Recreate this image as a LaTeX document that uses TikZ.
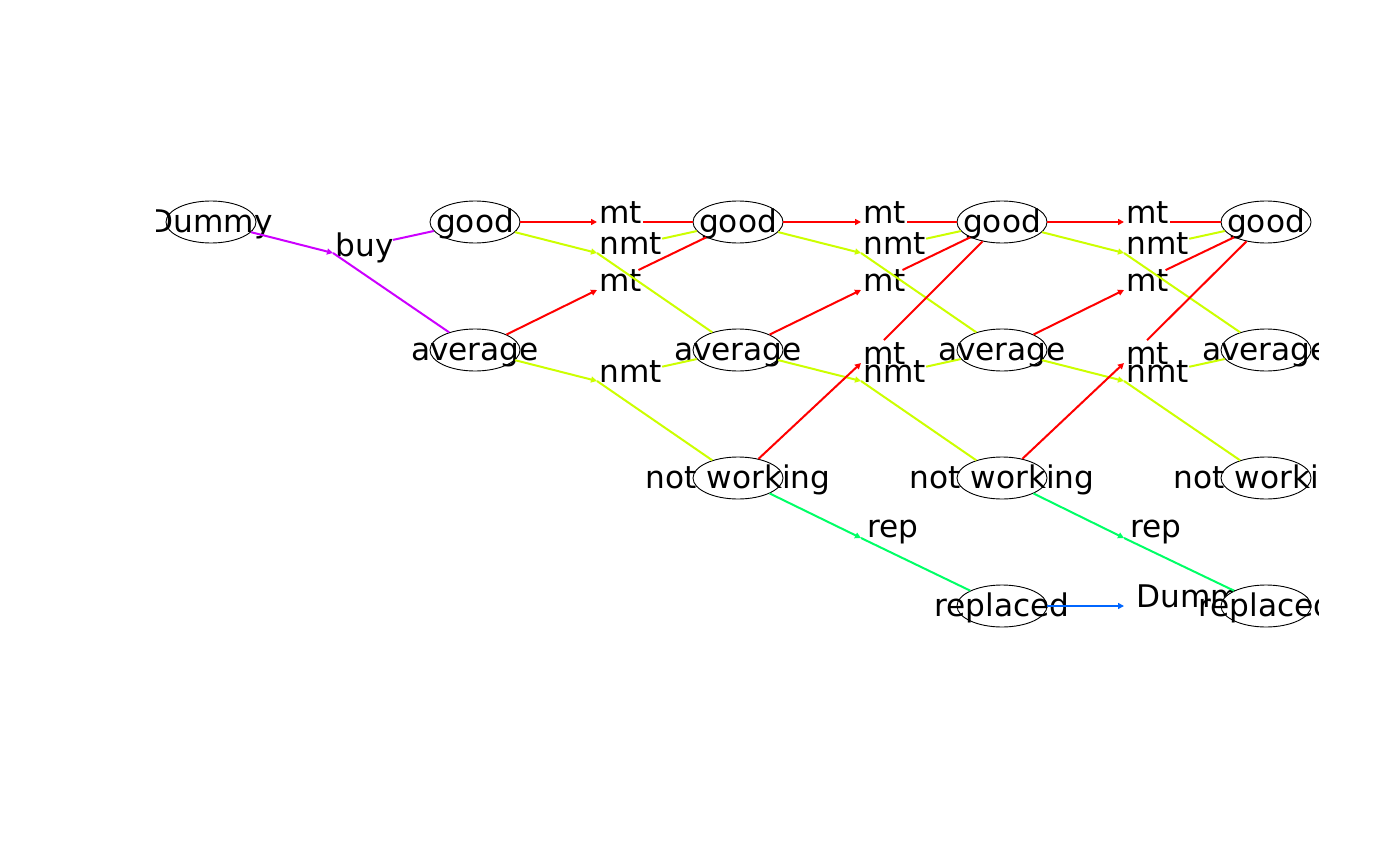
\documentclass[tikz,border=0pt]{standalone}
\usepackage{fontspec}
\setmainfont{DejaVu Sans}
\usetikzlibrary{positioning}
\usetikzlibrary{shapes.geometric}
\usetikzlibrary{arrows.meta}
\usetikzlibrary{calc}
\definecolor{mtc}{HTML}{FF0000}
\definecolor{nmtc}{HTML}{CCFF00}
\definecolor{repc}{HTML}{00FF66}
\definecolor{dumc}{HTML}{0066FF}
\definecolor{buyc}{HTML}{CC00FF}
\tikzset{
  state/.style={draw,shape=ellipse,fill=white,line width=0.45pt,inner sep=0pt,minimum width=45pt,minimum height=21pt},
  stlbl/.style={inner sep=0pt,text height=11pt,text depth=4pt,yshift=-1.7pt,font=\fontsize{15.6}{18}\selectfont},
  actlbl/.style={anchor=base west,inner sep=0.5pt,xshift=0.5pt,yshift=-0.6pt,font=\fontsize{15.6}{18}\selectfont},
  link/.style={line width=1pt},
  toact/.style={-{Triangle[length=3pt,width=3pt]}}
}

\begin{document}
\begin{tikzpicture}[x=0.5pt,y=-0.5pt]
        \useasboundingbox (0,0) rectangle (1400,866);
        \begin{scope}
        \clip (156,0) rectangle (1318,866);

        % decision / chance points
        \coordinate (buy) at (333,253);
        \coordinate (mtg1) at (597,222);
        \coordinate (nmtg1) at (597,253);
        \coordinate (mta1) at (597,290);
        \coordinate (nmta1) at (597,381);
        \coordinate (mtg2) at (861,222);
        \coordinate (nmtg2) at (861,253);
        \coordinate (mta2) at (861,290);
        \coordinate (nmta2) at (861,381);
        \coordinate (mtw2) at (861,363);
        \coordinate (rep2) at (861,538);
        \coordinate (mtg3) at (1124,222);
        \coordinate (nmtg3) at (1124,253);
        \coordinate (mta3) at (1124,290);
        \coordinate (nmta3) at (1124,381);
        \coordinate (mtw3) at (1124,363);
        \coordinate (rep3) at (1124,538);
        \coordinate (dumr3) at (1124,606);

        \node[actlbl,yshift=-1pt] (buyl) at (buy) {buy};
        \node[actlbl] (mtg1l) at (mtg1) {mt};
        \node[actlbl] (nmtg1l) at (nmtg1) {nmt};
        \node[actlbl] (mta1l) at (mta1) {mt};
        \node[actlbl] (nmta1l) at (nmta1) {nmt};
        \node[actlbl] (mtg2l) at (mtg2) {mt};
        \node[actlbl] (nmtg2l) at (nmtg2) {nmt};
        \node[actlbl] (mta2l) at (mta2) {mt};
        \node[actlbl] (nmta2l) at (nmta2) {nmt};
        \node[actlbl] (mtw2l) at (mtw2) {mt};
        \node[actlbl,xshift=2pt,yshift=1pt] (rep2l) at (rep2) {rep};
        \node[actlbl] (mtg3l) at (mtg3) {mt};
        \node[actlbl] (nmtg3l) at (nmtg3) {nmt};
        \node[actlbl] (mta3l) at (mta3) {mt};
        \node[actlbl] (nmta3l) at (nmta3) {nmt};
        \node[actlbl] (mtw3l) at (mtw3) {mt};
        \node[actlbl,xshift=2pt,yshift=1pt] (rep3l) at (rep3) {rep};
        \node[actlbl,xshift=5pt] (dumr3l) at (dumr3) {Dummy};

        % states
        \node[state,label={[stlbl]center:Dummy}] (dum) at (211,222) {};
        \node[state,label={[stlbl]center:good}] (g1) at (475,222) {};
        \node[state,label={[stlbl]center:average}] (a1) at (475,350) {};
        \node[state,label={[stlbl]center:good}] (g2) at (738,222) {};
        \node[state,label={[stlbl]center:average}] (a2) at (738,350) {};
        \node[state,label={[stlbl]center:not working}] (w2) at (738,478) {};
        \node[state,label={[stlbl]center:good}] (g3) at (1002,222) {};
        \node[state,label={[stlbl]center:average}] (a3) at (1002,350) {};
        \node[state,label={[stlbl]center:not working}] (w3) at (1002,478) {};
        \node[state,label={[stlbl]center:replaced}] (r3) at (1002,606) {};
        \node[state,label={[stlbl]center:good}] (g4) at (1266,222) {};
        \node[state,label={[stlbl]center:average}] (a4) at (1266,350) {};
        \node[state,label={[stlbl]center:not working}] (w4) at (1266,478) {};
        \node[state,label={[stlbl]center:replaced}] (r4) at (1266,606) {};

        % start
        \draw[link,buyc,toact] (dum) -- (buy);
        \draw[link,buyc] ($(buy)!(buyl.east)!(g1)$) -- (g1);
        \draw[link,buyc] (buy) -- (a1);

        % first stage
        \draw[link,mtc,toact] (g1) -- (mtg1);
        \draw[link,nmtc,toact] (g1) -- (nmtg1);
        \draw[link,mtc,toact] (a1) -- (mta1);
        \draw[link,nmtc,toact] (a1) -- (nmta1);
        \draw[link,mtc] ($(mtg1)!(mtg1l.east)!(g2)$) -- (g2);
        \draw[link,nmtc] ($(nmtg1)!(nmtg1l.east)!(g2)$) -- (g2);
        \draw[link,nmtc] (nmtg1) -- (a2);
        \draw[link,mtc] ($(mta1)!(mta1l.east)!(g2)$) -- (g2);
        \draw[link,nmtc] ($(nmta1)!(nmta1l.east)!(a2)$) -- (a2);
        \draw[link,nmtc] (nmta1) -- (w2);

        % second stage
        \draw[link,mtc,toact] (g2) -- (mtg2);
        \draw[link,nmtc,toact] (g2) -- (nmtg2);
        \draw[link,mtc,toact] (a2) -- (mta2);
        \draw[link,nmtc,toact] (a2) -- (nmta2);
        \draw[link,mtc,toact] (w2) -- (mtw2);
        \draw[link,repc,toact] (w2) -- (rep2);
        \draw[link,mtc] ($(mtg2)!(mtg2l.east)!(g3)$) -- (g3);
        \draw[link,nmtc] ($(nmtg2)!(nmtg2l.east)!(g3)$) -- (g3);
        \draw[link,nmtc] (nmtg2) -- (a3);
        \draw[link,mtc] ($(mta2)!(mta2l.east)!(g3)$) -- (g3);
        \draw[link,nmtc] ($(nmta2)!(nmta2l.east)!(a3)$) -- (a3);
        \draw[link,nmtc] (nmta2) -- (w3);
        \draw[link,mtc] ($(mtw2)!(mtw2l.north)!(g3)$) -- (g3);
        \draw[link,repc] (rep2) -- (r3);

        % third stage
        \draw[link,mtc,toact] (g3) -- (mtg3);
        \draw[link,nmtc,toact] (g3) -- (nmtg3);
        \draw[link,mtc,toact] (a3) -- (mta3);
        \draw[link,nmtc,toact] (a3) -- (nmta3);
        \draw[link,mtc,toact] (w3) -- (mtw3);
        \draw[link,repc,toact] (w3) -- (rep3);
        \draw[link,dumc,toact] (r3) -- (dumr3);
        \draw[link,mtc] ($(mtg3)!(mtg3l.east)!(g4)$) -- (g4);
        \draw[link,nmtc] ($(nmtg3)!(nmtg3l.east)!(g4)$) -- (g4);
        \draw[link,nmtc] (nmtg3) -- (a4);
        \draw[link,mtc] ($(mta3)!(mta3l.east)!(g4)$) -- (g4);
        \draw[link,nmtc] ($(nmta3)!(nmta3l.east)!(a4)$) -- (a4);
        \draw[link,nmtc] (nmta3) -- (w4);
        \draw[link,mtc] ($(mtw3)!(mtw3l.north)!(g4)$) -- (g4);
        \draw[link,repc] (rep3) -- (r4);
        \end{scope}
\end{tikzpicture}
\end{document}
